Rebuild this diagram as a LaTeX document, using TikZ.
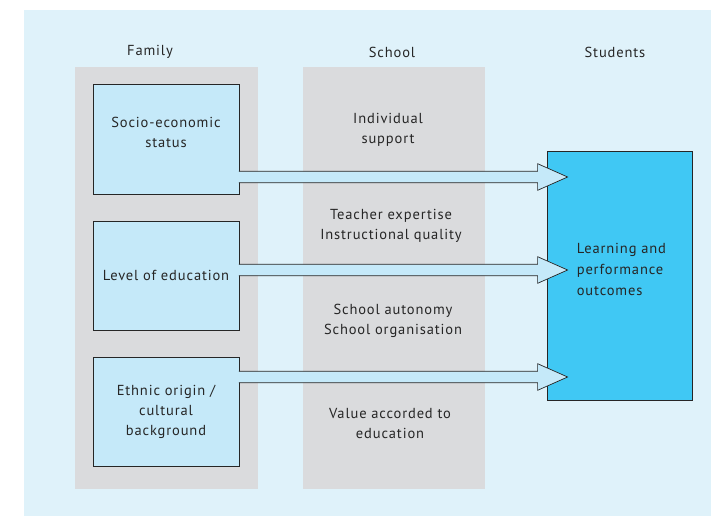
\documentclass[tikz,border=0pt]{standalone}
\usepackage{fontspec}
\setmainfont{PT Sans}[LetterSpace=6]
\usetikzlibrary{calc}
\definecolor{panelbg}{HTML}{DFF2FA}
\definecolor{columnbg}{HTML}{DADBDD}
\definecolor{factorfill}{HTML}{C5E9F9}
\definecolor{outcomefill}{HTML}{40C8F4}
\definecolor{ink}{HTML}{262626}
\tikzset{
  heading/.style={text=ink, font=\fontsize{14.5}{20}\selectfont, inner sep=0pt},
  factorbox/.style={draw=ink, fill=factorfill, line width=1pt,
                    minimum width=146pt, minimum height=109pt, inner sep=0pt,
                    align=center, text=ink, font=\fontsize{14.5}{20}\selectfont},
  outcomebox/.style={draw=ink, fill=outcomefill, line width=0.8pt,
                     minimum width=145pt, minimum height=249pt, inner sep=0pt},
  outcometext/.style={align=left, text=ink, inner sep=0pt, anchor=west,
                      font=\fontsize{14.5}{21}\selectfont},
  schooltext/.style={align=center, text=ink, inner sep=0pt,
                     font=\fontsize{14.5}{20}\selectfont},
  flow/.style={draw=ink, fill=factorfill, line width=0.7pt, line join=miter},
}
% fat arrow from a family box to the outcome box at height #3
\newcommand{\flowarrow}[3]{%
  \draw[flow] ($(#1.east |- 0,#3)+(-0.6,-5.7)$)
    -- ($(#2.west |- 0,#3)+(-9,-5.7)$) -- ++(0,-7.6)
    -- ($(#2.west |- 0,#3)+(21,0)$)
    -- ($(#2.west |- 0,#3)+(-9,13.3)$) -- ++(0,-7.6)
    -- ($(#1.east |- 0,#3)+(-0.6,5.7)$);}

\begin{document}
\begin{tikzpicture}[x=1pt, y=-1pt]
  \useasboundingbox (0,0) rectangle (711,516);
  \fill[panelbg] (24,10) rectangle (711,516);

  % columns
  \fill[columnbg] (75,67) rectangle (258,489);
  \fill[columnbg] (303,67) rectangle (485,489);

  \node[heading] (family)   at (150,52) {Family};
  \node[heading] (school)   at (392,52) {School};
  \node[heading] (students) at (615,52) {Students};

  % family factors
  \node[factorbox, text depth=14pt] (ses) at (166,139.5) {Socio-economic\\status};
  \node[factorbox] (educ)  at (166,275.5) {Level of education};
  \node[factorbox] (ethnic) at (166,411.5) {Ethnic origin /\\cultural\\background};

  % school factors
  \node[schooltext] (support)  at (388,130) {Individual\\support};
  \node[schooltext] (teaching) at (391,226) {Teacher expertise\\Instructional quality};
  \node[schooltext] (autonomy) at (393,321) {School autonomy\\School organisation};
  \node[schooltext] (values)   at (390,424) {Value accorded to\\education};

  \node[outcomebox] (outcomes) at (619.5,275.5) {};
  \node[outcometext] (result) at ($(outcomes.west)+(30,-6)$)
    {Learning and\\performance\\outcomes};

  \flowarrow{ses}{outcomes}{177}
  \flowarrow{educ}{outcomes}{270}
  \flowarrow{ethnic}{outcomes}{377}
\end{tikzpicture}
\end{document}
